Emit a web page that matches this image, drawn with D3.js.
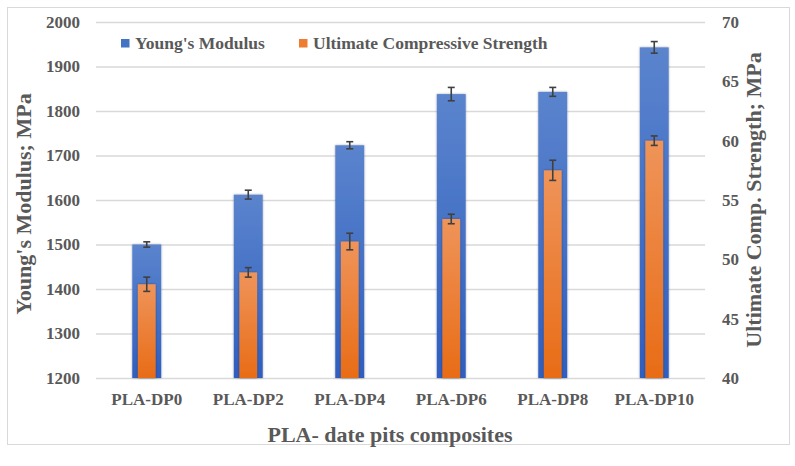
<!DOCTYPE html>
<html>
<head>
<meta charset="utf-8">
<script src="https://cdn.jsdelivr.net/npm/d3@7"></script>
<style>
  body { margin: 0; background: #fff; }
  svg text { font-family: "Liberation Serif", "Times New Roman", serif; font-weight: bold; fill: #595959; }
</style>
</head>
<body>
<svg width="795" height="466"></svg>
<script>
const categories = ["PLA-DP0", "PLA-DP2", "PLA-DP4", "PLA-DP6", "PLA-DP8", "PLA-DP10"];
const youngs = [1500, 1612, 1723, 1838, 1843, 1943];
const youngsErr = [6, 10, 8, 15, 10, 13];
const ucs = [47.9, 48.9, 51.5, 53.4, 57.5, 60.0];
const ucsErr = [0.6, 0.4, 0.7, 0.4, 0.85, 0.4];
const leftTicks = [1200, 1300, 1400, 1500, 1600, 1700, 1800, 1900, 2000];
const rightTicks = [40, 45, 50, 55, 60, 65, 70];

const plot = { left: 96, right: 705, top: 22, bottom: 378 };

const svg = d3.select('svg');
const defs = svg.append('defs');

function gradient(id, top, bottom) {
    const g = defs.append('linearGradient').attr('id', id)
        .attr('x1', 0).attr('y1', 0).attr('x2', 0).attr('y2', 1);
    g.append('stop').attr('offset', '0%').attr('stop-color', top);
    g.append('stop').attr('offset', '100%').attr('stop-color', bottom);
}
gradient('blueGrad', '#5b84cd', '#2f5ebf');
gradient('orangeGrad', '#ef945a', '#e86c16');

const shadow = defs.append('filter').attr('id', 'shadow')
    .attr('x', '-30%').attr('y', '-5%').attr('width', '160%').attr('height', '110%');
shadow.append('feDropShadow').attr('dx', 0).attr('dy', 0)
    .attr('stdDeviation', 1.2).attr('flood-color', '#000').attr('flood-opacity', 0.35);

// outer frame
svg.append('rect').attr('x', 7.5).attr('y', 7.5).attr('width', 782).attr('height', 437)
    .attr('fill', '#fff').attr('stroke', '#d9d9d9');

const x = d3.scaleBand().domain(categories).range([plot.left, plot.right]).padding(0);
const yL = d3.scaleLinear().domain([1200, 2000]).range([plot.bottom, plot.top]);
const yR = d3.scaleLinear().domain([40, 70]).range([plot.bottom, plot.top]);

// gridlines
svg.append('g')
    .attr('transform', `translate(${plot.left},0)`)
    .call(d3.axisLeft(yL).tickValues(leftTicks).tickSize(-(plot.right - plot.left)).tickFormat(''))
    .call(g => g.select('.domain').remove())
    .call(g => g.selectAll('line').attr('stroke', '#d9d9d9').attr('stroke-width', 1.3));

// left axis labels
svg.append('g')
    .attr('transform', `translate(${plot.left},0)`)
    .call(d3.axisLeft(yL).tickValues(leftTicks).tickSize(0).tickPadding(16).tickFormat(d3.format('d')))
    .call(g => g.select('.domain').remove())
    .call(g => g.selectAll('text').attr('font-size', 17).attr('fill', '#595959'));

// right axis labels
svg.append('g')
    .attr('transform', `translate(${plot.right},0)`)
    .call(d3.axisRight(yR).tickValues(rightTicks).tickSize(0).tickPadding(17).tickFormat(d3.format('d')))
    .call(g => g.select('.domain').remove())
    .call(g => g.selectAll('text').attr('font-size', 17).attr('fill', '#595959'));

// x axis labels
svg.append('g')
    .attr('transform', `translate(0,${plot.bottom})`)
    .call(d3.axisBottom(x).tickSize(0).tickPadding(15))
    .call(g => g.select('.domain').remove())
    .call(g => g.selectAll('text').attr('font-size', 17).attr('fill', '#595959'));

const blueW = x.bandwidth() * 0.285;
const orangeW = x.bandwidth() * 0.175;

// Young's modulus bars
svg.append('g').selectAll('rect')
    .data(categories)
    .enter().append('rect')
    .attr('x', d => x(d) + x.bandwidth() / 2 - blueW / 2)
    .attr('y', (d, i) => yL(youngs[i]))
    .attr('width', blueW)
    .attr('height', (d, i) => plot.bottom - yL(youngs[i]))
    .attr('fill', 'url(#blueGrad)')
    .attr('filter', 'url(#shadow)');

// UCS bars
svg.append('g').selectAll('rect')
    .data(categories)
    .enter().append('rect')
    .attr('x', d => x(d) + x.bandwidth() / 2 - orangeW / 2)
    .attr('y', (d, i) => yR(ucs[i]))
    .attr('width', orangeW)
    .attr('height', (d, i) => plot.bottom - yR(ucs[i]))
    .attr('fill', 'url(#orangeGrad)')
    .attr('filter', 'url(#shadow)');

// error bars
function errorBars(vals, errs, scale) {
    const g = svg.append('g').attr('stroke', '#404040').attr('stroke-width', 1.6);
    categories.forEach((c, i) => {
        const cx = x(c) + x.bandwidth() / 2;
        const y1 = scale(vals[i] - errs[i]), y2 = scale(vals[i] + errs[i]);
        g.append('line').attr('x1', cx).attr('x2', cx).attr('y1', y1).attr('y2', y2);
        g.append('line').attr('x1', cx - 3.5).attr('x2', cx + 3.5).attr('y1', y1).attr('y2', y1);
        g.append('line').attr('x1', cx - 3.5).attr('x2', cx + 3.5).attr('y1', y2).attr('y2', y2);
    });
}
errorBars(youngs, youngsErr, yL);
errorBars(ucs, ucsErr, yR);

// legend
const legend = [
    { label: "Young's Modulus", color: '#4472c4', x: 121 },
    { label: 'Ultimate Compressive Strength', color: '#ed7d31', x: 299 }
];
const lg = svg.append('g');
legend.forEach(l => {
    lg.append('rect').attr('x', l.x).attr('y', 39).attr('width', 8.5).attr('height', 8.5).attr('fill', l.color);
    lg.append('text').attr('x', l.x + 14).attr('y', 49).attr('font-size', 17.5).text(l.label);
});

// axis titles
svg.append('text')
    .attr('transform', 'translate(31,204) rotate(-90)')
    .attr('text-anchor', 'middle').attr('font-size', 22)
    .text("Young's Modulus; MPa");

svg.append('text')
    .attr('transform', 'translate(761,200) rotate(-90)')
    .attr('text-anchor', 'middle').attr('font-size', 22)
    .text('Ultimate Comp. Strength; MPa');

svg.append('text')
    .attr('x', 390).attr('y', 442)
    .attr('text-anchor', 'middle').attr('font-size', 22)
    .text('PLA- date pits composites');
</script>
</body>
</html>
